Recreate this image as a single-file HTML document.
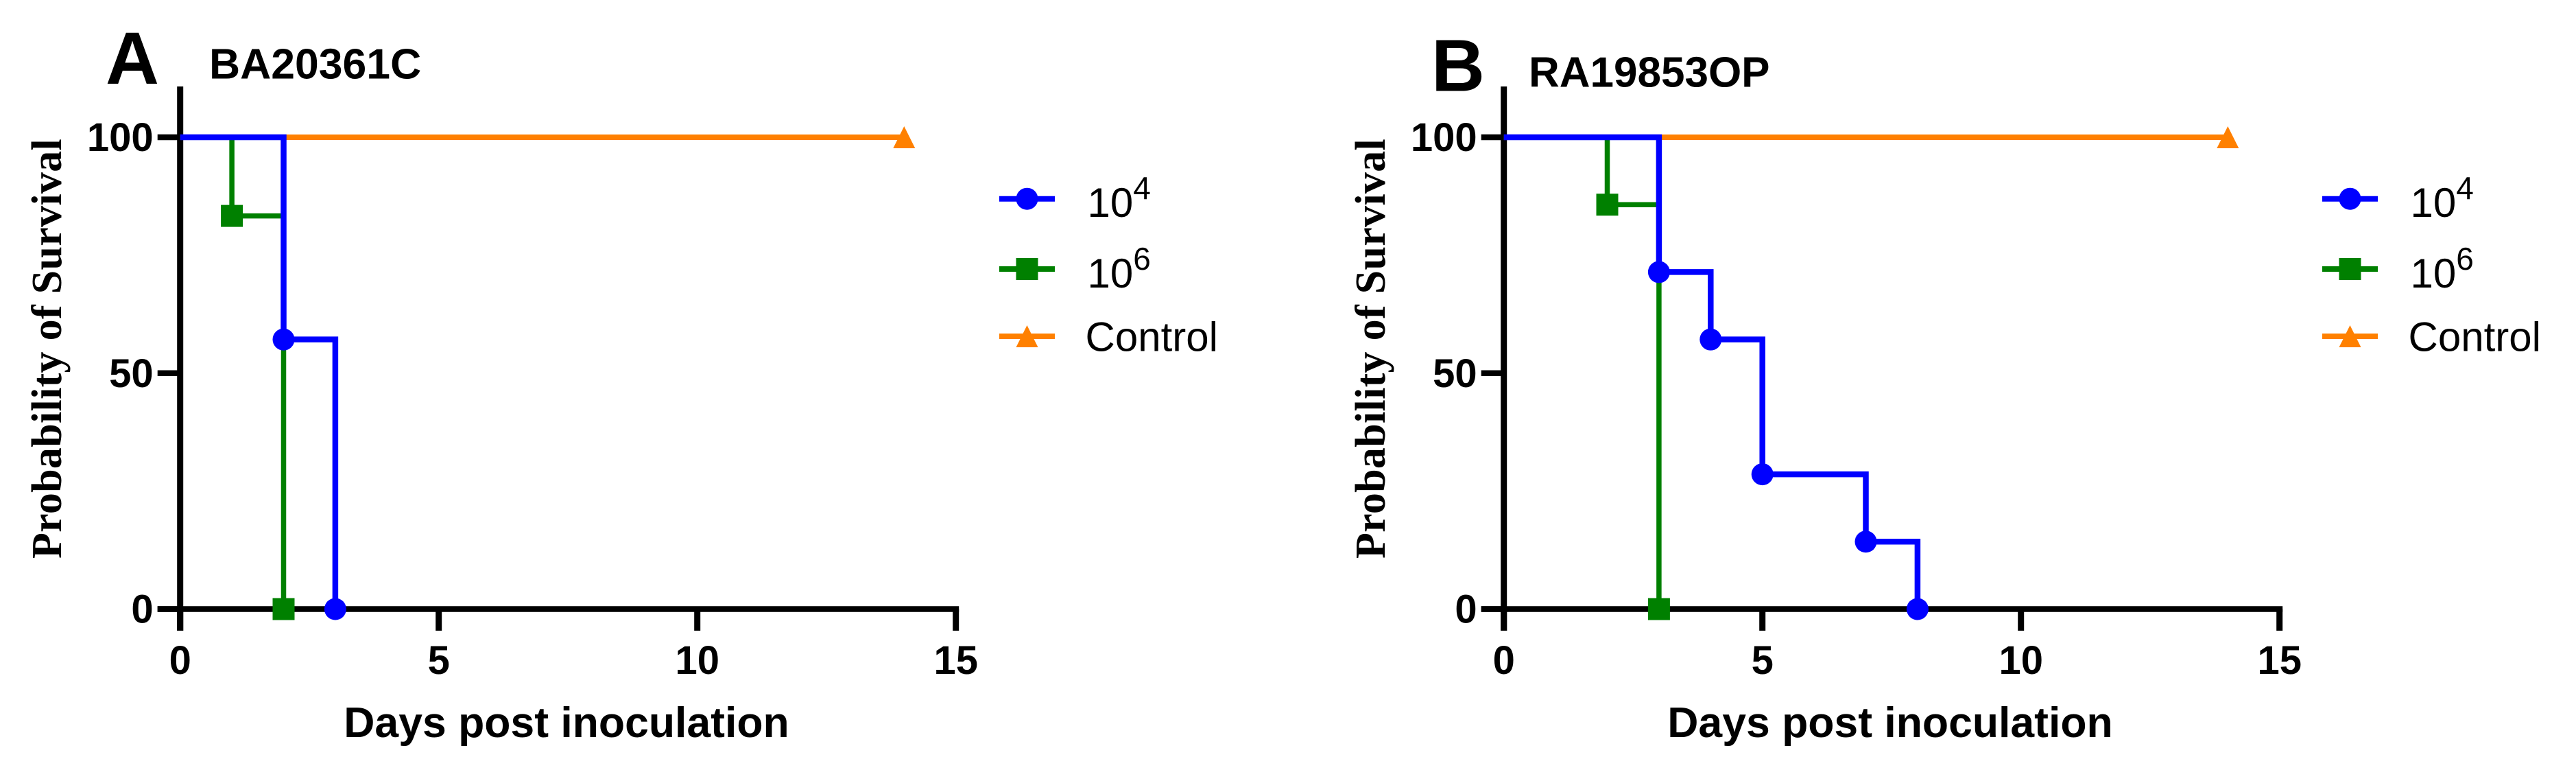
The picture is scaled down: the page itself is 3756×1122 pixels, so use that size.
<!DOCTYPE html>
<html lang="en">
<head>
<meta charset="utf-8">
<title>Survival curves BA20361C and RA19853OP</title>
<style>
html,body{margin:0;padding:0;background:#fff;}
svg{display:block;}
text{font-family:"Liberation Sans",Arial,sans-serif;fill:#000;}
.serif{font-family:"Liberation Serif","Times New Roman",serif;font-weight:bold;}
</style>
</head>
<body>
<svg id="figure" xmlns="http://www.w3.org/2000/svg" width="3756" height="1122" viewBox="0 0 3756 1122">
  <rect x="0" y="0" width="3756" height="1122" fill="#ffffff"/>

  <g id="panel-a">
    <text x="154" y="122" font-size="108" font-weight="bold">A</text>
    <text x="305" y="114.5" font-size="62.5" font-weight="bold">BA20361C</text>
    <text class="serif" transform="translate(89,508) rotate(-90)" text-anchor="middle" font-size="62" letter-spacing="0.3">Probability of Survival</text>
    <text x="826" y="1074" text-anchor="middle" font-size="62.5" font-weight="bold">Days post inoculation</text>
  </g>

  <g id="panel-b">
    <text x="2087" y="132.5" font-size="108" font-weight="bold">B</text>
    <text x="2229" y="126.5" font-size="62" font-weight="bold">RA19853OP</text>
    <text class="serif" transform="translate(2019,508) rotate(-90)" text-anchor="middle" font-size="62" letter-spacing="0.3">Probability of Survival</text>
    <text x="2756" y="1074" text-anchor="middle" font-size="62.5" font-weight="bold">Days post inoculation</text>
  </g>
</svg>

<script>
// ---- Axis ticks ----
const xTickValues = [0, 5, 10, 15];
const yTickValues = [0, 50, 100];

// ---- Legend ----
const legendBases = ['10', '10', 'Control'];
const legendExponents = ['4', '6', ''];

// ---- Panel A: BA20361C ----
const panelADaysLow = [0, 2, 3];
const panelASurvivalLow = [100, 57.14, 0];
const panelADaysHigh = [0, 1, 2];
const panelASurvivalHigh = [100, 83.33, 0];
const panelADaysControl = [0, 14];
const panelASurvivalControl = [100, 100];

// ---- Panel B: RA19853OP ----
const panelBDaysLow = [0, 3, 4, 5, 7, 8];
const panelBSurvivalLow = [100, 71.43, 57.14, 28.57, 14.29, 0];
const panelBDaysHigh = [0, 2, 3];
const panelBSurvivalHigh = [100, 85.71, 0];
const panelBDaysControl = [0, 14];
const panelBSurvivalControl = [100, 100];

const NS = 'http://www.w3.org/2000/svg';
const BLUE = '#0000ff', GREEN = '#008000', ORANGE = '#ff8000';

function mk(parent, tag, attrs) {
  const el = document.createElementNS(NS, tag);
  for (const k in attrs) el.setAttribute(k, attrs[k]);
  parent.appendChild(el);
  return el;
}

function drawMarker(parent, kind, cx, cy, color) {
  let el;
  if (kind === 'circle') {
    el = mk(parent, 'circle', { cx: cx, cy: cy, r: 16, fill: color });
  } else if (kind === 'square') {
    el = mk(parent, 'rect', { x: cx - 16, y: cy - 16, width: 32, height: 32, fill: color });
  } else {
    el = mk(parent, 'polygon', {
      points: cx + ',' + (cy - 16) + ' ' + (cx + 16) + ',' + (cy + 16) + ' ' + (cx - 16) + ',' + (cy + 16),
      fill: color
    });
  }
  return el;
}

function drawPanel(parentId, prefix, axisLeft, legendLeft, legendTextLeft, series) {
  const parent = document.getElementById(parentId);
  const xScale = function (d) { return axisLeft + d * (1131 / 15); };
  const yScale = function (s) { return 887.5 - s * (687.5 / 100); };

  // Y axis line
  const yAxis = mk(parent, 'line', { x1: axisLeft, x2: axisLeft, y1: 126, y2: 919, stroke: '#000', 'stroke-width': 9 });
  
  

  // X axis line
  const xAxis = mk(parent, 'line', { x1: axisLeft - 33, x2: xScale(15) + 4.5, y1: yScale(0), y2: yScale(0), stroke: '#000', 'stroke-width': 8.6 });
  
  

  yTickValues.forEach(function (v) {
    const tick = mk(parent, 'line', { x1: axisLeft - 33, x2: axisLeft, y1: yScale(v), y2: yScale(v), stroke: '#000', 'stroke-width': 8.6 });
    
    
    const label = mk(parent, 'text', { x: axisLeft - 39, y: yScale(v) + 20, 'text-anchor': 'end', 'font-size': 58, 'font-weight': 'bold' });
    label.textContent = String(v);
    
    
  });

  xTickValues.forEach(function (v) {
    const tick = mk(parent, 'line', { x1: xScale(v), x2: xScale(v), y1: yScale(0), y2: 919, stroke: '#000', 'stroke-width': 9 });
    
    
    const label = mk(parent, 'text', { x: xScale(v), y: 982, 'text-anchor': 'middle', 'font-size': 58, 'font-weight': 'bold' });
    label.textContent = String(v);
    
    
  });

  // Step curves
  series.forEach(function (s) {
    let d = 'M' + xScale(s.days[0]) + ' ' + yScale(s.surv[0]);
    for (let i = 1; i < s.days.length; i++) {
      d += ' H' + xScale(s.days[i]) + ' V' + yScale(s.surv[i]);
    }
    const curve = mk(parent, 'path', { d: d, fill: 'none', stroke: s.color, 'stroke-width': s.width, 'stroke-linejoin': 'miter', 'stroke-linecap': 'butt' });
    
    
    for (let i = 1; i < s.days.length; i++) {
      const m = drawMarker(parent, s.marker, xScale(s.days[i]), yScale(s.surv[i]), s.color);
      
      
    }
  });

  // Legend
  const legendRows = [289.7, 392, 490];
  const legendBaselines = [316, 419, 511.5];
  const legendSeries = [series[2], series[1], series[0]];
  legendRows.forEach(function (rowY, i) {
    const s = legendSeries[i];
    const entry = mk(parent, 'g', {});
    
    
    const swatch = mk(entry, 'line', { x1: legendLeft, x2: legendLeft + 81, y1: rowY, y2: rowY, stroke: s.color, 'stroke-width': 8 });
    
    
    const mark = drawMarker(entry, s.marker, legendLeft + 40.5, rowY, s.color);
    
    
    const isExp = legendExponents[i] !== '';
    const label = mk(entry, 'text', { x: legendTextLeft - (isExp ? 4.5 : 7.5), y: legendBaselines[i], 'font-size': 60 });
    
    
    const base = mk(label, 'tspan', {});
    base.textContent = legendBases[i];
    if (isExp) {
      const sup = mk(label, 'tspan', { dy: -26, 'font-size': 46 });
      sup.textContent = legendExponents[i];
    }
  });
}

drawPanel('panel-a', 'panel-a', 262.7, 1457, 1590, [
  { key: 'control', days: panelADaysControl, surv: panelASurvivalControl, color: ORANGE, width: 8, marker: 'triangle' },
  { key: 'dose-1e6', days: panelADaysHigh, surv: panelASurvivalHigh, color: GREEN, width: 7.5, marker: 'square' },
  { key: 'dose-1e4', days: panelADaysLow, surv: panelASurvivalLow, color: BLUE, width: 8.5, marker: 'circle' }
]);

drawPanel('panel-b', 'panel-b', 2192.7, 3386, 3519, [
  { key: 'control', days: panelBDaysControl, surv: panelBSurvivalControl, color: ORANGE, width: 8, marker: 'triangle' },
  { key: 'dose-1e6', days: panelBDaysHigh, surv: panelBSurvivalHigh, color: GREEN, width: 7.5, marker: 'square' },
  { key: 'dose-1e4', days: panelBDaysLow, surv: panelBSurvivalLow, color: BLUE, width: 8.5, marker: 'circle' }
]);
</script>
</body>
</html>
